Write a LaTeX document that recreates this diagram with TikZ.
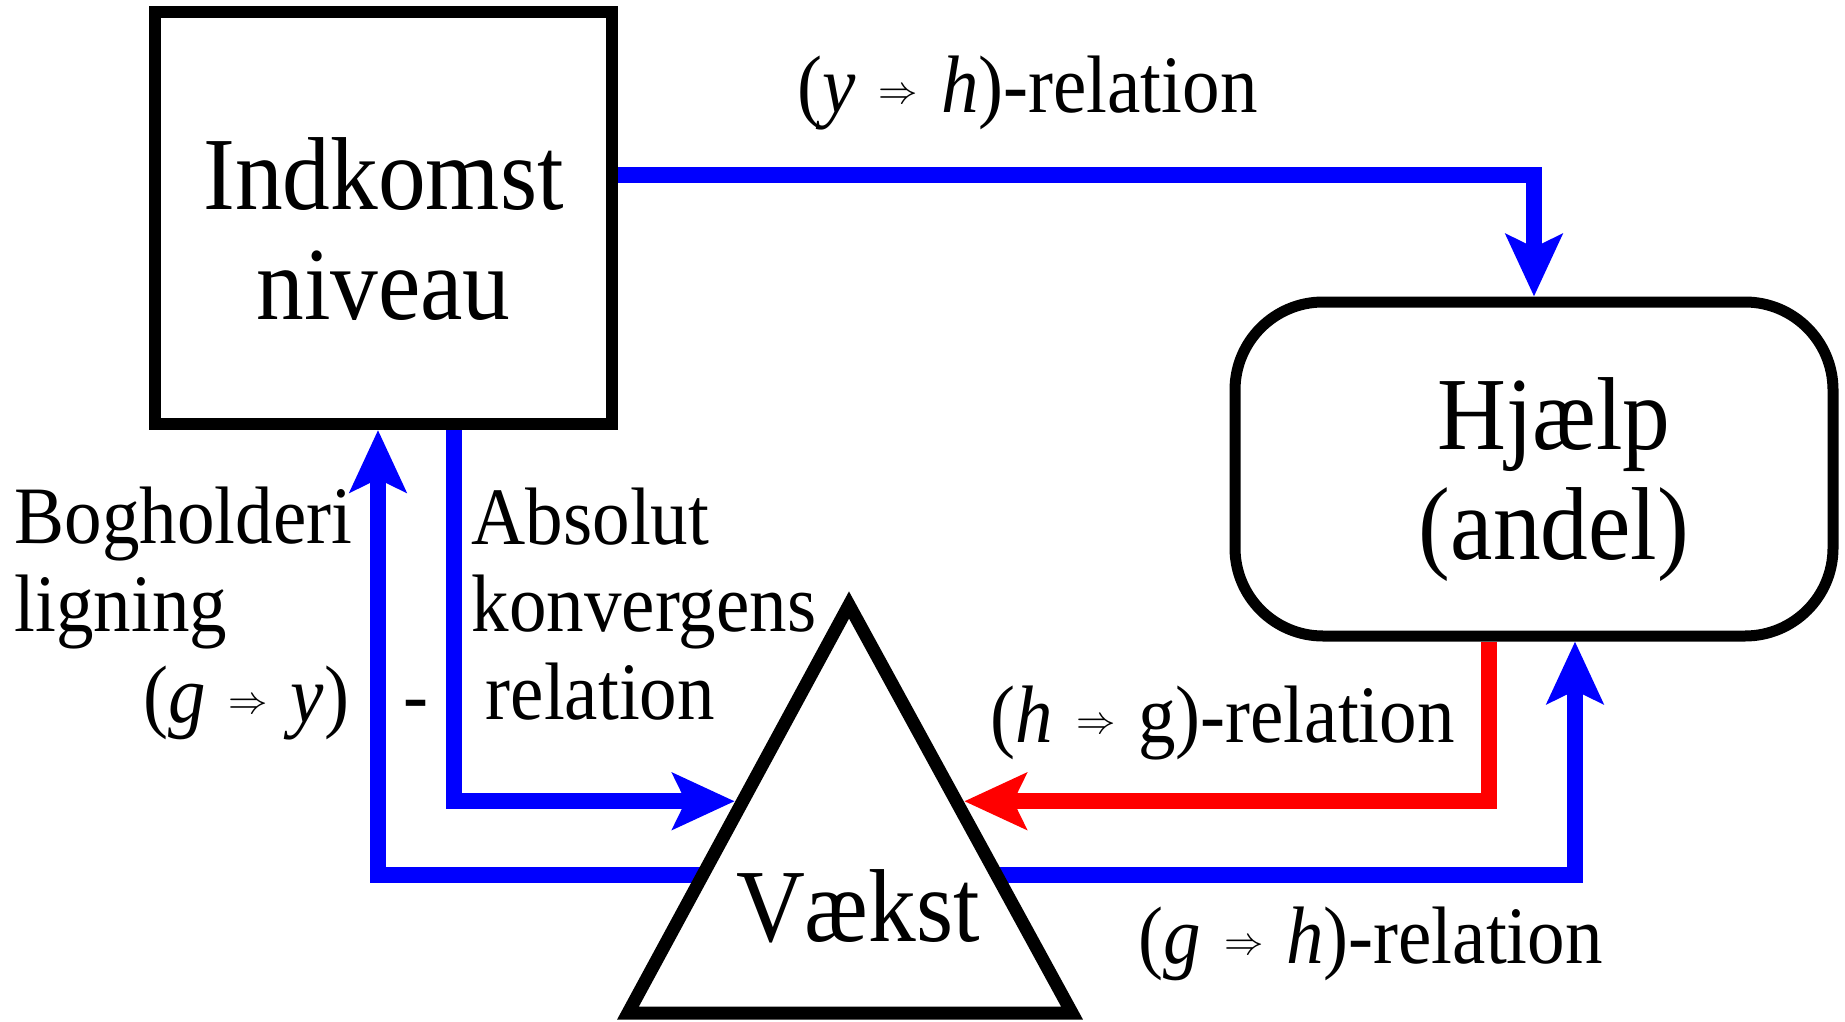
\documentclass[tikz,border=0pt]{standalone}
\usepackage{fontspec}
\setmainfont{Liberation Serif}[FakeStretch=0.92]
\usepackage{graphicx}
\usetikzlibrary{positioning, arrows.meta, calc}

\newcommand{\impl}{\hspace{0.28em}\raisebox{0.1em}{\scalebox{0.45}{$\Rightarrow$}}\hspace{0.28em}}

\begin{document}
\begin{tikzpicture}[
  boxfont/.style={font=\fontsize{29.5}{31.3}\selectfont},
  labelfont/.style={font=\fontsize{23.2}{24.8}\selectfont},
  block/.style={
    rectangle, draw=black, line width=1.2mm,
    minimum width=45.7mm, minimum height=41.2mm, align=center, boxfont
  },
  roundblock/.style={
    rectangle, rounded corners=8.8mm, draw=black, line width=1.1mm,
    minimum width=59.8mm, minimum height=33.4mm, align=center, boxfont
  },
  conn/.style={line width=1.6mm, -{Stealth[length=6.2mm, width=5.6mm, inset=1.3mm]}},
  txt/.style={labelfont, inner sep=0pt, align=left}
]
\useasboundingbox (0,0) rectangle (18.45,10.21);
\node[block] (indkomst) at (3.835,8.03) {\rule{0pt}{9.4mm}Indkomst\\niveau};
\node[roundblock] (hjaelp) at (15.34,5.52) {\rule{0pt}{9.4mm}\hspace*{4mm}Hjælp\\\hspace*{4mm}(andel)};
\coordinate (apex) at (8.49,4.16);
\coordinate (lcorner) at (6.28,0.08);
\coordinate (rcorner) at (10.72,0.08);
\coordinate (inL) at ($(lcorner)!0.338!(apex)$);
\coordinate (inM) at ($(lcorner)!0.519!(apex)$);
\coordinate (inR) at ($(rcorner)!0.519!(apex)$);
\coordinate (outR) at ($(rcorner)!0.338!(apex)$);
\draw[conn, blue] ($(indkomst.east)+(0,0.43)$) -| (hjaelp.north);
\draw[conn, blue] (inL) -| ($(indkomst.south)+(-0.055,0)$);
\draw[conn, blue, shorten >=0.8mm] ($(indkomst.south)+(0.705,0)$) |- (inM);
\draw[conn, red, shorten >=0.8mm] ($(hjaelp.south)+(-0.45,0)$) |- (inR);
\draw[conn, blue] (outR) -| ($(hjaelp.south)+(0.41,0)$);
\draw[line width=1.3mm] (apex) -- (lcorner) -- (rcorner) -- cycle;
\node[boxfont, anchor=base] (vaekst) at (8.58,0.80) {Vækst};
\node[txt, anchor=base west] (yh) at (7.97,9.09) {(\textit{y}\impl\textit{h})-relation};
\node[txt, anchor=base west] (boghold) at (0.14,3.90) {Bogholderi\\ligning};
\node[txt, anchor=base east] (gy) at (3.50,2.99) {(\textit{g}\impl\textit{y})};
\node[txt, anchor=base] (minus) at (4.16,2.99) {-};
\node[txt, anchor=base west] (abs) at (4.71,3.02) {Absolut\\konvergens\\\hspace{1.4mm}relation};
\node[txt, anchor=base west] (hg) at (9.90,2.79) {(\textit{h}\impl g)-relation};
\node[txt, anchor=base west] (gh) at (11.38,0.58) {(\textit{g}\impl\textit{h})-relation};
\end{tikzpicture}
\end{document}
